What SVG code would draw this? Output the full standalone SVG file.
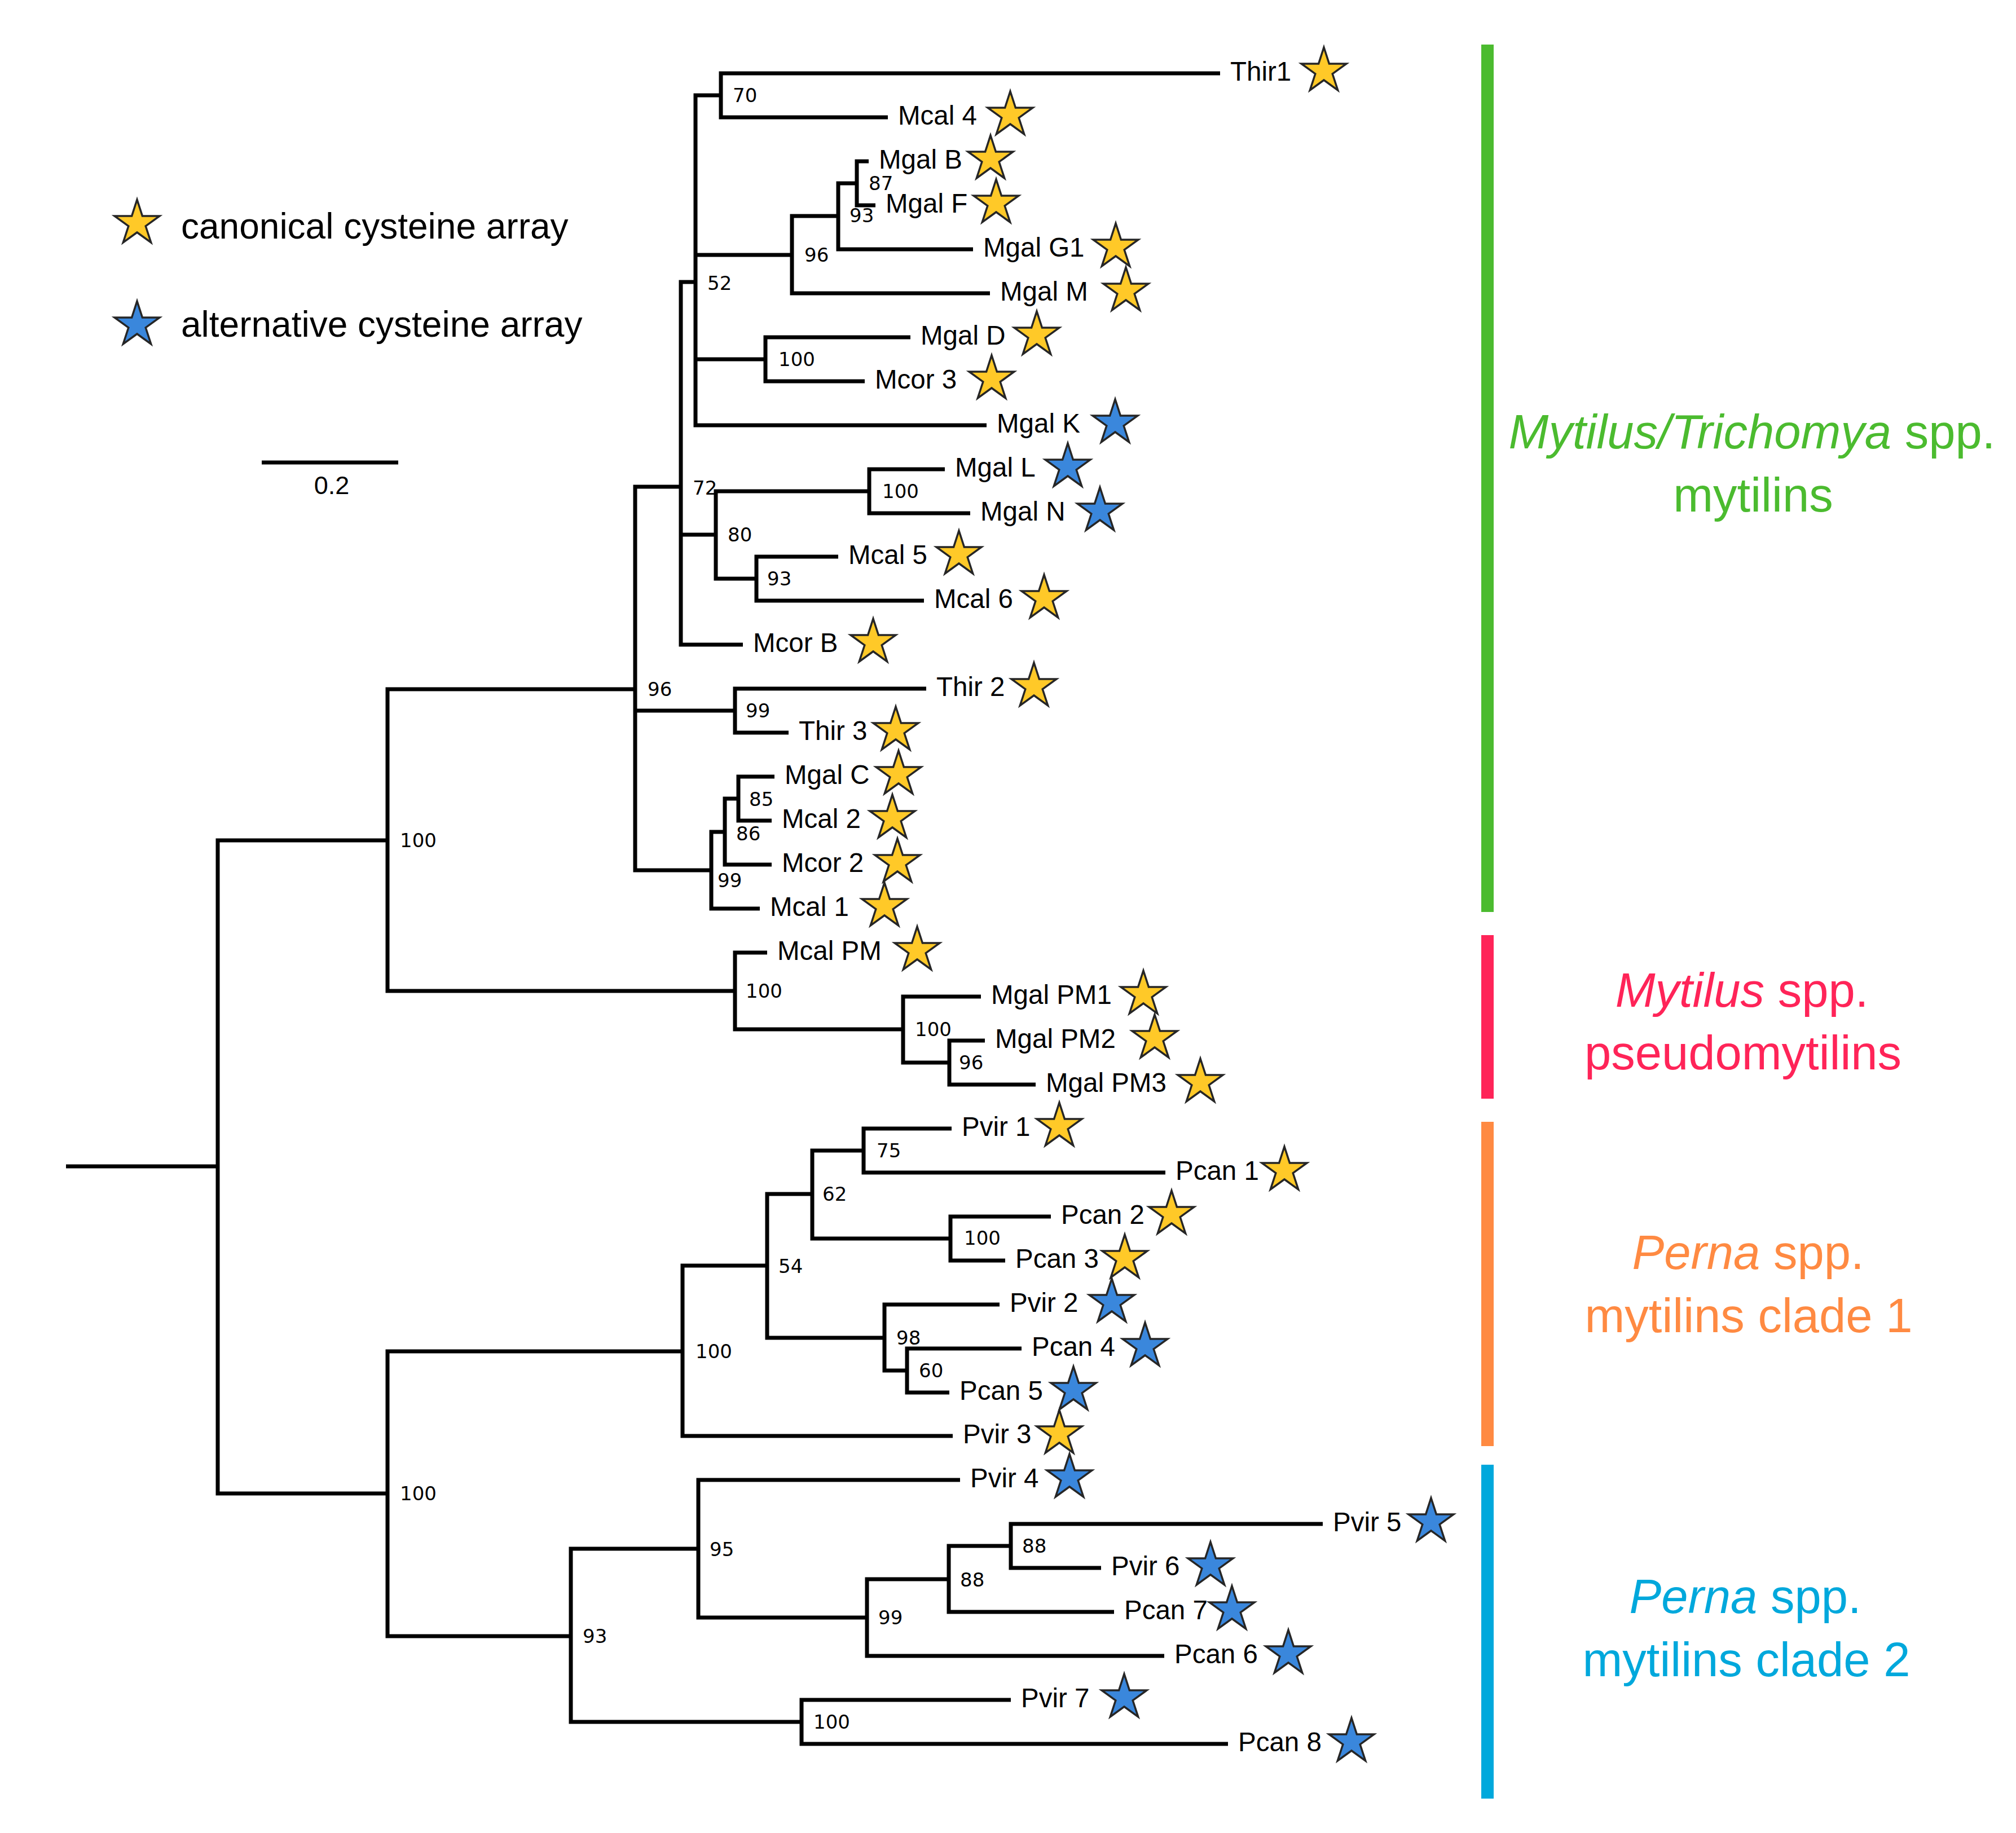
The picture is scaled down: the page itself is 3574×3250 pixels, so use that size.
<svg xmlns="http://www.w3.org/2000/svg" xmlns:xlink="http://www.w3.org/1999/xlink" width="3574" height="3250" viewBox="0 0 3574 3250">
<style>
.br{fill:none;stroke:#000;stroke-width:7;stroke-linejoin:miter;stroke-linecap:butt}
.lf{font-family:"Liberation Sans",Arial,sans-serif;font-size:47.5px;fill:#000}
.bs{font-family:"DejaVu Sans",Verdana,sans-serif;font-size:34px;fill:#000}
.lg{font-family:"Liberation Sans",Arial,sans-serif;font-size:64px;fill:#000}
.cl{font-family:"Liberation Sans",Arial,sans-serif;font-size:85px;text-anchor:middle}
.sy{fill:#FFC928}
.sb{fill:#3A87DC}
.st{stroke:#262626;stroke-width:3.5;stroke-linejoin:miter}
</style>
<defs>
<path id="star" d="M0,-42 L9.4,-12.94 L39.94,-12.98 L15.22,4.94 L24.69,33.98 L0,16 L-24.69,33.98 L-15.22,4.94 L-39.94,-12.98 L-9.4,-12.94 Z"/>
</defs>
<rect width="3574" height="3250" fill="#fff"/>

<g id="connectors">
<path class="br" d="M2163 130H1278V208H1574"/>
<path class="br" d="M1540 286H1519V364H1552"/>
<path class="br" d="M1519 325H1486V442H1725"/>
<path class="br" d="M1486 383H1404V520H1755"/>
<path class="br" d="M1614 598H1357V676H1533"/>
<path class="br" d="M1278 169H1233V754H1749M1233 452H1404M1233 637H1357"/>
<path class="br" d="M1675 832H1541V910H1720"/>
<path class="br" d="M1486 987H1341V1065H1638"/>
<path class="br" d="M1541 871H1269V1026H1341"/>
<path class="br" d="M1233 500H1207V1143H1317M1207 948H1269"/>
<path class="br" d="M1642 1221H1303V1299H1398"/>
<path class="br" d="M1373 1377H1309V1455H1368"/>
<path class="br" d="M1309 1416H1285V1533H1368"/>
<path class="br" d="M1285 1475H1261V1611H1347"/>
<path class="br" d="M1207 863H1126V1543H1261M1126 1260H1303"/>
<path class="br" d="M1746 1845H1683V1923H1836"/>
<path class="br" d="M1739 1767H1601V1884H1683"/>
<path class="br" d="M1360 1689H1303V1825H1601"/>
<path class="br" d="M1126 1222H687V1757H1303"/>
<path class="br" d="M1687 2001H1531V2079H2066"/>
<path class="br" d="M1863 2157H1685V2235H1782"/>
<path class="br" d="M1531 2040H1440V2196H1685"/>
<path class="br" d="M1811 2391H1608V2469H1683"/>
<path class="br" d="M1772 2313H1568V2430H1608"/>
<path class="br" d="M1440 2117H1360V2372H1568"/>
<path class="br" d="M1360 2244H1210V2546H1689"/>
<path class="br" d="M2345 2702H1792V2780H1952"/>
<path class="br" d="M1792 2741H1682V2858H1975"/>
<path class="br" d="M1682 2800H1537V2936H2064"/>
<path class="br" d="M1702 2624H1238V2868H1537"/>
<path class="br" d="M1792 3014H1421V3092H2177"/>
<path class="br" d="M1238 2746H1012V3053H1421"/>
<path class="br" d="M1210 2396H687V2901H1012"/>
<path class="br" d="M687 1490H386V2648H687M117 2068H386"/>
</g>

<g id="bootstrap">
<g id="bs-n70"><text class="bs" x="1299" y="181">70</text></g>
<g id="bs-n87"><text class="bs" x="1540" y="337">87</text></g>
<g id="bs-n93a"><text class="bs" x="1506" y="394">93</text></g>
<g id="bs-n96a"><text class="bs" x="1426" y="464">96</text></g>
<g id="bs-n52"><text class="bs" x="1254" y="514">52</text></g>
<g id="bs-n100a"><text class="bs" x="1380" y="649">100</text></g>
<g id="bs-n72"><text class="bs" x="1228" y="877">72</text></g>
<g id="bs-n100b"><text class="bs" x="1564" y="883">100</text></g>
<g id="bs-n80"><text class="bs" x="1290" y="960">80</text></g>
<g id="bs-n93b"><text class="bs" x="1360" y="1038">93</text></g>
<g id="bs-n96b"><text class="bs" x="1148" y="1234">96</text></g>
<g id="bs-n99a"><text class="bs" x="1322" y="1272">99</text></g>
<g id="bs-n85"><text class="bs" x="1328" y="1429">85</text></g>
<g id="bs-n86"><text class="bs" x="1305" y="1490">86</text></g>
<g id="bs-n99b"><text class="bs" x="1272" y="1573">99</text></g>
<g id="bs-n100e"><text class="bs" x="709" y="1502">100</text></g>
<g id="bs-n100d"><text class="bs" x="1322" y="1769">100</text></g>
<g id="bs-n100c"><text class="bs" x="1622" y="1837">100</text></g>
<g id="bs-n96c"><text class="bs" x="1700" y="1896">96</text></g>
<g id="bs-n75"><text class="bs" x="1554" y="2052">75</text></g>
<g id="bs-n62"><text class="bs" x="1458" y="2129">62</text></g>
<g id="bs-n100f"><text class="bs" x="1709" y="2207">100</text></g>
<g id="bs-n54"><text class="bs" x="1380" y="2257">54</text></g>
<g id="bs-n98"><text class="bs" x="1589" y="2384">98</text></g>
<g id="bs-n60"><text class="bs" x="1629" y="2442">60</text></g>
<g id="bs-n100g"><text class="bs" x="1233" y="2408">100</text></g>
<g id="bs-n100i"><text class="bs" x="709" y="2660">100</text></g>
<g id="bs-n95"><text class="bs" x="1258" y="2759">95</text></g>
<g id="bs-n88i"><text class="bs" x="1812" y="2753">88</text></g>
<g id="bs-n88o"><text class="bs" x="1702" y="2813">88</text></g>
<g id="bs-n99c"><text class="bs" x="1557" y="2880">99</text></g>
<g id="bs-n93c"><text class="bs" x="1033" y="2913">93</text></g>
<g id="bs-n100h"><text class="bs" x="1442" y="3065">100</text></g>
</g>

<g id="leaves">
<g id="leaf-thir1"><text class="lf" x="2181" y="143">Thir1</text><use href="#star" class="sy st" x="2347" y="126"/></g>
<g id="leaf-mcal4"><text class="lf" x="1592" y="221">Mcal 4</text><use href="#star" class="sy st" x="1791" y="204"/></g>
<g id="leaf-mgalB"><text class="lf" x="1558" y="299">Mgal B</text><use href="#star" class="sy st" x="1756" y="282"/></g>
<g id="leaf-mgalF"><text class="lf" x="1570" y="377">Mgal F</text><use href="#star" class="sy st" x="1766" y="360"/></g>
<g id="leaf-mgalG1"><text class="lf" x="1743" y="455">Mgal G1</text><use href="#star" class="sy st" x="1978" y="438"/></g>
<g id="leaf-mgalM"><text class="lf" x="1773" y="533">Mgal M</text><use href="#star" class="sy st" x="1996" y="516"/></g>
<g id="leaf-mgalD"><text class="lf" x="1632" y="611">Mgal D</text><use href="#star" class="sy st" x="1838" y="594"/></g>
<g id="leaf-mcor3"><text class="lf" x="1551" y="689">Mcor 3</text><use href="#star" class="sy st" x="1758" y="672"/></g>
<g id="leaf-mgalK"><text class="lf" x="1767" y="767">Mgal K</text><use href="#star" class="sb st" x="1977" y="750"/></g>
<g id="leaf-mgalL"><text class="lf" x="1693" y="845">Mgal L</text><use href="#star" class="sb st" x="1893" y="828"/></g>
<g id="leaf-mgalN"><text class="lf" x="1738" y="923">Mgal N</text><use href="#star" class="sb st" x="1950" y="906"/></g>
<g id="leaf-mcal5"><text class="lf" x="1504" y="1000">Mcal 5</text><use href="#star" class="sy st" x="1700" y="983"/></g>
<g id="leaf-mcal6"><text class="lf" x="1656" y="1078">Mcal 6</text><use href="#star" class="sy st" x="1851" y="1061"/></g>
<g id="leaf-mcorB"><text class="lf" x="1335" y="1156">Mcor B</text><use href="#star" class="sy st" x="1548" y="1139"/></g>
<g id="leaf-thir2"><text class="lf" x="1660" y="1234">Thir 2</text><use href="#star" class="sy st" x="1833" y="1217"/></g>
<g id="leaf-thir3"><text class="lf" x="1416" y="1312">Thir 3</text><use href="#star" class="sy st" x="1588" y="1295"/></g>
<g id="leaf-mgalC"><text class="lf" x="1391" y="1390">Mgal C</text><use href="#star" class="sy st" x="1593" y="1373"/></g>
<g id="leaf-mcal2"><text class="lf" x="1386" y="1468">Mcal 2</text><use href="#star" class="sy st" x="1582" y="1451"/></g>
<g id="leaf-mcor2"><text class="lf" x="1386" y="1546">Mcor 2</text><use href="#star" class="sy st" x="1591" y="1529"/></g>
<g id="leaf-mcal1"><text class="lf" x="1365" y="1624">Mcal 1</text><use href="#star" class="sy st" x="1568" y="1607"/></g>
<g id="leaf-mcalPM"><text class="lf" x="1378" y="1702">Mcal PM</text><use href="#star" class="sy st" x="1626" y="1685"/></g>
<g id="leaf-mgalPM1"><text class="lf" x="1757" y="1780">Mgal PM1</text><use href="#star" class="sy st" x="2027" y="1763"/></g>
<g id="leaf-mgalPM2"><text class="lf" x="1764" y="1858">Mgal PM2</text><use href="#star" class="sy st" x="2047" y="1841"/></g>
<g id="leaf-mgalPM3"><text class="lf" x="1854" y="1936">Mgal PM3</text><use href="#star" class="sy st" x="2128" y="1919"/></g>
<g id="leaf-pvir1"><text class="lf" x="1705" y="2014">Pvir 1</text><use href="#star" class="sy st" x="1878" y="1997"/></g>
<g id="leaf-pcan1"><text class="lf" x="2084" y="2092">Pcan 1</text><use href="#star" class="sy st" x="2277" y="2075"/></g>
<g id="leaf-pcan2"><text class="lf" x="1881" y="2170">Pcan 2</text><use href="#star" class="sy st" x="2077" y="2153"/></g>
<g id="leaf-pcan3"><text class="lf" x="1800" y="2248">Pcan 3</text><use href="#star" class="sy st" x="1994" y="2231"/></g>
<g id="leaf-pvir2"><text class="lf" x="1790" y="2326">Pvir 2</text><use href="#star" class="sb st" x="1971" y="2309"/></g>
<g id="leaf-pcan4"><text class="lf" x="1829" y="2404">Pcan 4</text><use href="#star" class="sb st" x="2030" y="2387"/></g>
<g id="leaf-pcan5"><text class="lf" x="1701" y="2482">Pcan 5</text><use href="#star" class="sb st" x="1903" y="2465"/></g>
<g id="leaf-pvir3"><text class="lf" x="1707" y="2559">Pvir 3</text><use href="#star" class="sy st" x="1878" y="2542"/></g>
<g id="leaf-pvir4"><text class="lf" x="1720" y="2637">Pvir 4</text><use href="#star" class="sb st" x="1896" y="2620"/></g>
<g id="leaf-pvir5"><text class="lf" x="2363" y="2715">Pvir 5</text><use href="#star" class="sb st" x="2537" y="2698"/></g>
<g id="leaf-pvir6"><text class="lf" x="1970" y="2793">Pvir 6</text><use href="#star" class="sb st" x="2146" y="2776"/></g>
<g id="leaf-pcan7"><text class="lf" x="1993" y="2871">Pcan 7</text><use href="#star" class="sb st" x="2184" y="2854"/></g>
<g id="leaf-pcan6"><text class="lf" x="2082" y="2949">Pcan 6</text><use href="#star" class="sb st" x="2284" y="2932"/></g>
<g id="leaf-pvir7"><text class="lf" x="1810" y="3027">Pvir 7</text><use href="#star" class="sb st" x="1993" y="3010"/></g>
<g id="leaf-pcan8"><text class="lf" x="2195" y="3105">Pcan 8</text><use href="#star" class="sb st" x="2396" y="3088"/></g>
</g>

<g id="legend">
<g id="legend-canonical"><use href="#star" class="sy st" x="243" y="396"/><text class="lg" x="321" y="423">canonical cysteine array</text></g>
<g id="legend-alternative"><use href="#star" class="sb st" x="243" y="576"/><text class="lg" x="321" y="597">alternative cysteine array</text></g>
<g id="scale-bar"><line x1="464" y1="820" x2="706" y2="820" stroke="#000" stroke-width="7"/><text x="588" y="876" text-anchor="middle" font-family="Liberation Sans, Arial, sans-serif" font-size="45">0.2</text></g>
</g>

<g id="clades">
<g id="clade-mytilus-trichomya">
<rect x="2626" y="79" width="22" height="1538" fill="#4BBB2F"/>
<text class="cl" x="3106" y="795" fill="#4BBB2F"><tspan font-style="italic">Mytilus/Trichomya</tspan> spp.</text>
<text class="cl" x="3108" y="907" fill="#4BBB2F">mytilins</text>
</g>
<g id="clade-pseudomytilins">
<rect x="2626" y="1658" width="22" height="290" fill="#FF2458"/>
<text class="cl" x="3088" y="1785" fill="#FF2458"><tspan font-style="italic">Mytilus</tspan> spp.</text>
<text class="cl" x="3090" y="1896" fill="#FF2458">pseudomytilins</text>
</g>
<g id="clade-perna1">
<rect x="2626" y="1989" width="22" height="575" fill="#FF8A42"/>
<text class="cl" x="3099" y="2250" fill="#FF8A42"><tspan font-style="italic">Perna</tspan> spp.</text>
<text class="cl" x="3100" y="2362" fill="#FF8A42">mytilins clade 1</text>
</g>
<g id="clade-perna2">
<rect x="2626" y="2597" width="22" height="592" fill="#00A8DC"/>
<text class="cl" x="3094" y="2860" fill="#00A8DC"><tspan font-style="italic">Perna</tspan> spp.</text>
<text class="cl" x="3096" y="2972" fill="#00A8DC">mytilins clade 2</text>
</g>
</g>
</svg>
